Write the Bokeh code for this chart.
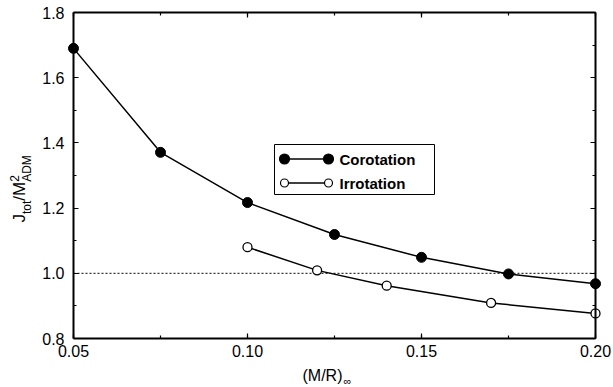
import math
from bokeh.plotting import figure
from bokeh.models import Range1d, LinearAxis, SingleIntervalTicker, Label, CustomJSTickFormatter
from bokeh.core.properties import value
from bokeh.embed import file_html
from bokeh.resources import INLINE

# ---- data ----
coro_x = [0.05, 0.075, 0.10, 0.125, 0.15, 0.175, 0.20]
coro_y = [1.69, 1.371, 1.217, 1.119, 1.049, 0.998, 0.968]
irro_x = [0.10, 0.12, 0.14, 0.17, 0.20]
irro_y = [1.08, 1.009, 0.962, 0.909, 0.877]
ref_y = 1.0
series_names = ["Corotation", "Irrotation"]
x_ticks_step = 0.05
y_ticks_step = 0.2

X0, X1 = 0.05, 0.20
Y0, Y1 = 0.8, 1.8

# plot-box pixel positions on the canvas (layout)
FL, FR, FT, FB = 73, 595, 12, 338
W, H = 613, 387

def dx(px):
    return X0 + (px - FL) / (FR - FL) * (X1 - X0)

def dy(py):
    return Y0 + (FB - py) / (FB - FT) * (Y1 - Y0)

FONT = "Liberation Sans"

# frame spans the whole canvas; the axes are placed at the box edges
p = figure(width=W, height=H, output_backend="svg", toolbar_location=None,
           x_range=Range1d(dx(0), dx(W)), y_range=Range1d(dy(H), dy(0)),
           min_border=0, x_axis_location=None, y_axis_location=None)
p.grid.visible = False
p.outline_line_color = None
p.background_fill_color = "white"
p.border_fill_color = "white"

def make_axis(step, bounds, loc, labels=True, fmt="return tick.toFixed(2);"):
    ax = LinearAxis(ticker=SingleIntervalTicker(interval=step, num_minor_ticks=2))
    ax.bounds = bounds
    ax.fixed_location = loc
    ax.axis_line_width = 2
    ax.axis_line_color = "black"
    ax.major_tick_in = 5
    ax.major_tick_out = 0
    ax.minor_tick_in = 3
    ax.minor_tick_out = 0
    ax.major_tick_line_width = 1.2
    ax.minor_tick_line_width = 1.2
    ax.major_label_text_font = FONT
    ax.major_label_text_font_size = "16px"
    ax.major_label_text_color = "black"
    ax.formatter = CustomJSTickFormatter(code=fmt)
    if not labels:
        ax.major_label_text_font_size = "1px"
        ax.major_label_text_color = None
        ax.major_label_standoff = 0
    return ax

bx = make_axis(x_ticks_step, (X0, X1), Y0, True, "return tick.toFixed(2);")
bx.major_label_standoff = 6
lx = make_axis(y_ticks_step, (Y0, Y1), X0, True, "return tick.toFixed(1);")
lx.major_label_standoff = 9
tx = make_axis(x_ticks_step, (X0, X1), Y1, False)
rx = make_axis(y_ticks_step, (Y0, Y1), X1, False)
p.add_layout(bx, "below")
p.add_layout(lx, "left")
p.add_layout(tx, "above")
p.add_layout(rx, "right")

# dotted reference line across the box
p.segment(x0=[X0], x1=[X1], y0=[ref_y], y1=[ref_y], line_color="black",
          line_width=1, line_dash="2 2")

# series
p.line(coro_x, coro_y, line_color="black", line_width=1.5)
p.scatter(coro_x, coro_y, size=10, fill_color="black", line_color="black")
p.line(irro_x, irro_y, line_color="black", line_width=1.5)
p.scatter(irro_x, irro_y, size=9, fill_color="white", line_color="black", line_width=1.3)

# legend box (positions in canvas pixels)
LB_L, LB_R, LB_T, LB_B = 274, 434, 144, 194
p.quad(left=[dx(LB_L)], right=[dx(LB_R)], top=[dy(LB_T)], bottom=[dy(LB_B)],
       fill_color="white", line_color="black", line_width=1)
rows = [(158.5, "black", 10), (182.5, "white", 8)]
for (ry, fc, sz), name in zip(rows, series_names):
    p.line([dx(284), dx(328)], [dy(ry), dy(ry)], line_color="black", line_width=1.5)
    p.scatter([dx(284), dx(328)], [dy(ry), dy(ry)], size=sz, fill_color=fc,
              line_color="black", line_width=1.2)
    p.text([dx(339)], [dy(ry)], text=[name], text_font=value(FONT),
           text_font_size="15px", text_font_style="bold",
           text_baseline="middle", text_align="left", text_color="black")

# y-axis label: J_tot / M^2_ADM (rotated, reading upward)
ang = math.pi / 2
def ylab(text, cx, py, size):
    p.add_layout(Label(x=dx(cx), y=dy(py), text=text, angle=ang,
                       text_font=FONT, text_font_size=size, text_color="black",
                       text_baseline="middle", text_align="left"))

ylab("J", 19, 222, "17px")
ylab("tot", 26.5, 213.5, "12px")
ylab("/M", 19, 200.2, "17px")
ylab("2", 14, 181.3, "12px")
ylab("ADM", 26.5, 181.3, "12px")

# x-axis label: (M/R)_inf
p.add_layout(Label(x=dx(302), y=dy(375), text="(M/R)", text_font=FONT,
                   text_font_size="16px", text_color="black",
                   text_baseline="middle", text_align="left"))
p.add_layout(Label(x=dx(343), y=dy(380), text="\u221e", text_font=FONT,
                   text_font_size="11px", text_color="black",
                   text_baseline="middle", text_align="left"))

open("out.html", "w").write(file_html(p, INLINE))
